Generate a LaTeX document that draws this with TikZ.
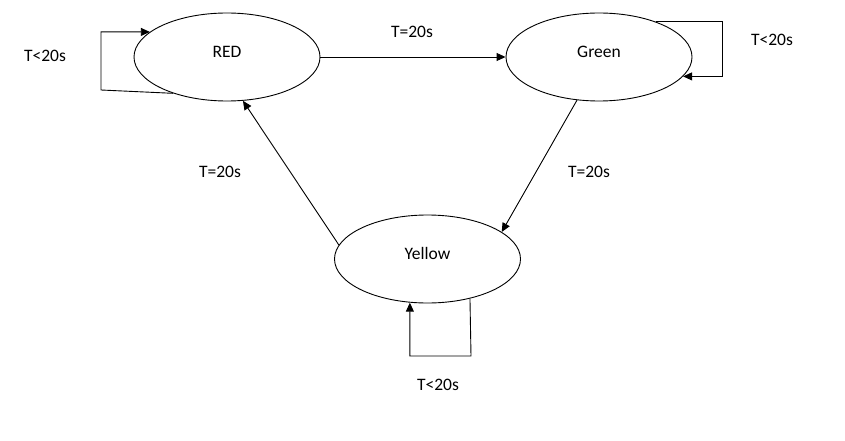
\documentclass[tikz,border=0pt]{standalone}
\usepackage{fontspec}
\setmainfont{Carlito}
\usetikzlibrary{shapes.geometric,arrows.meta}

\begin{document}
\begin{tikzpicture}[x=1pt, y=1pt,
        font=\fontsize{17.5}{21}\selectfont,
        state/.style={draw, ellipse, line width=0.9pt,
            minimum width=186pt, minimum height=88pt, inner sep=0pt,
            text height=6pt, text depth=5pt},
        trans/.style={-{Triangle[length=9pt,width=8pt]}, line width=0.9pt}
    ]
    \useasboundingbox (0,0) rectangle (845,440);

    % the three lights
    \node[state] (red) at (227,383) {RED};
    \node[state] (green) at (599,383) {Green};
    \node[state] (yellow) at (427.5,181) {Yellow};

    % corners of the waiting loops
    \coordinate (redcorner) at (101,350);
    \coordinate (greencorner) at (722,390);
    \coordinate (yellowcorner) at (471,84);

    % changes of light
    \draw[trans] (red.east) -- (green.west);
    \draw[trans] (green.-117) -- (yellow.20);
    \draw[trans] (yellow.171) -- (red.-70);

    % staying on the same light
    \draw[trans] (red.214) -- (redcorner) |- (red.162);
    \draw[trans] (green.32) -| (greencorner) |- (green.-13);
    \draw[trans] (yellow.-43) -- (yellowcorner) -| (yellow.-112);

    \node (toGreen) at (412,408) {T=20s};
    \node (toYellow) at (589,268) {T=20s};
    \node (toRed) at (220,268) {T=20s};
    \node (waitRed) at (45,384) {T<20s};
    \node (waitGreen) at (772,400) {T<20s};
    \node (waitYellow) at (438,55) {T<20s};
\end{tikzpicture}
\end{document}
